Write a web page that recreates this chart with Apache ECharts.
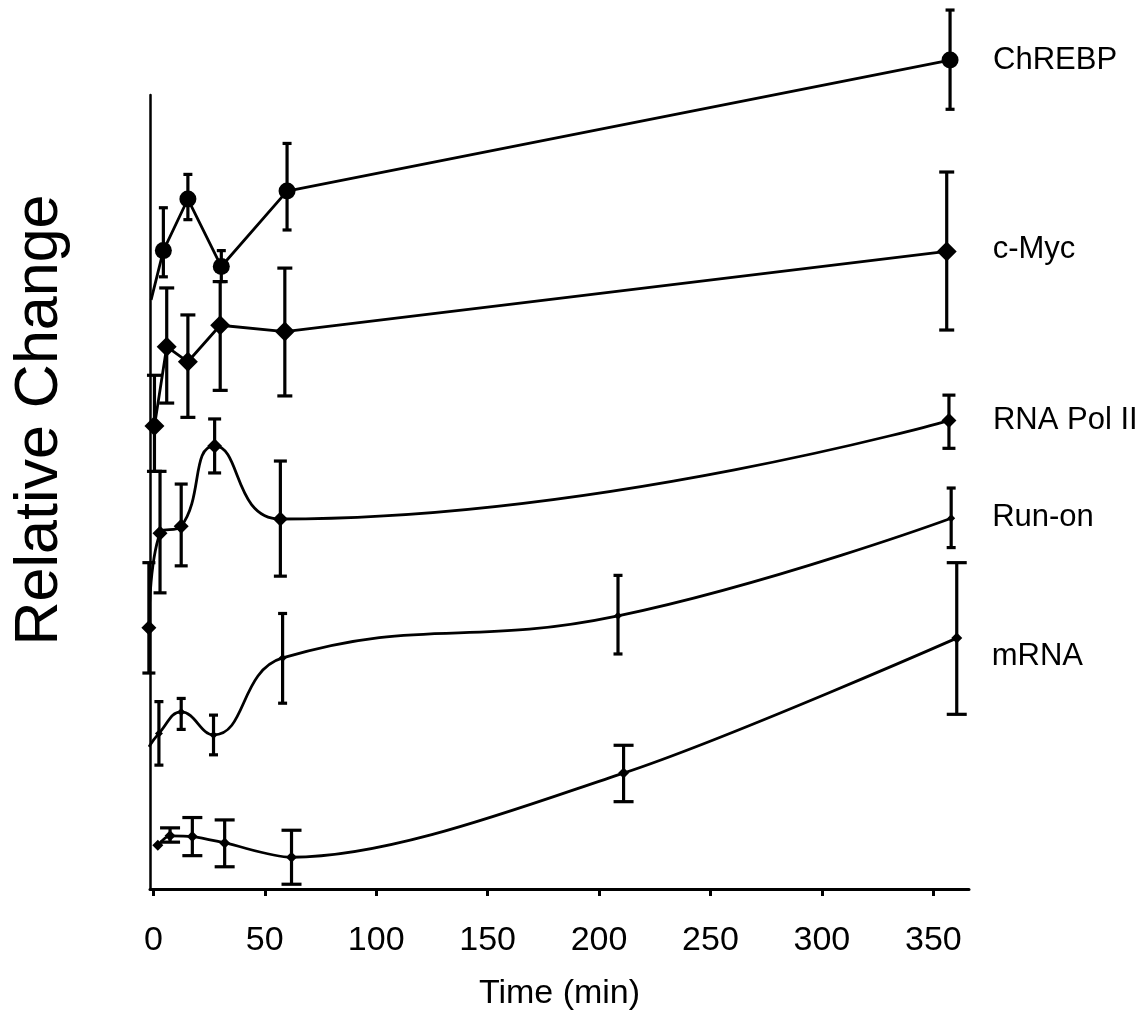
<!DOCTYPE html>
<html>
<head>
<meta charset="utf-8">
<script src="https://cdn.jsdelivr.net/npm/echarts@6/dist/echarts.min.js"></script>
<style>
  html, body { margin: 0; background: #fff; }
  #main { width: 1146px; height: 1013px; }
</style>
</head>
<body>
<div id="main"></div>
<script>
// time points (min), values and error limits (arbitrary units)
const xTicks = [0, 50, 100, 150, 200, 250, 300, 350];

const chrebpTime = [-1, 4.5, 15.5, 30.5, 60, 357.5];
const chrebpVal  = [7.42, 8.04, 8.69, 7.84, 8.79, 10.44];
const chrebpLow  = [null, 7.71, 8.43, 7.65, 8.30, 9.82];
const chrebpHigh = [null, 8.58, 9.00, 8.04, 9.39, 11.07];

const mycTime = [0.5, 6, 15.5, 30, 59, 356];
const mycVal  = [5.83, 6.83, 6.64, 7.10, 7.02, 8.03];
const mycLow  = [5.26, 6.12, 5.94, 6.28, 6.21, 7.04];
const mycHigh = [6.47, 7.57, 7.23, 7.65, 7.82, 9.03];

const polTime = [-2, 3, 12.5, 27.5, 57, 357];
const polVal  = [3.29, 4.48, 4.57, 5.58, 4.66, 5.90];
const polLow  = [2.72, 3.73, 4.07, 5.24, 3.94, 5.55];
const polHigh = [4.11, 5.26, 5.10, 5.92, 5.39, 6.22];

const runTime = [-2, 2.5, 12.5, 27, 58, 208.5, 358];
const runVal  = [1.79, 1.96, 2.23, 1.94, 2.91, 3.44, 4.67];
const runLow  = [null, 1.56, 2.01, 1.69, 2.34, 2.96, 4.30];
const runHigh = [null, 2.36, 2.40, 2.19, 3.47, 3.95, 5.05];

const mrnaTime = [2, 7.5, 17.5, 32, 62, 211, 360.5];
const mrnaVal  = [0.55, 0.67, 0.66, 0.58, 0.40, 1.46, 3.16];
const mrnaLow  = [null, 0.59, 0.42, 0.28, 0.06, 1.10, 2.20];
const mrnaHigh = [null, 0.77, 0.90, 0.87, 0.74, 1.81, 4.11];

const FONT = 'Liberation Sans, Arial, sans-serif';
const chart = echarts.init(document.getElementById('main'));

function lineSeries(name, times, vals, opts) {
  const data = times.map((t, i) => {
    // first point of some curves has no marker (hidden under the axis)
    if (opts.hideFirst && i === 0) return { value: [t, vals[i]], symbol: 'none' };
    return [t, vals[i]];
  });
  return {
    type: 'line',
    name: name,
    data: data,
    smooth: opts.smooth || false,
    symbol: opts.symbol,
    symbolSize: opts.size,
    clip: false,
    z: 4,
    lineStyle: { color: '#000', width: 2.8 },
    itemStyle: { color: '#000' },
    endLabel: {
      show: true,
      formatter: '{a}',
      distance: 0,
      offset: opts.labelOffset,
      color: '#000',
      fontSize: 31,
      fontFamily: FONT
    }
  };
}

function errorSeries(name, times, low, high, cap) {
  const data = [];
  times.forEach((t, i) => {
    if (low[i] != null) data.push([t, low[i], high[i]]);
  });
  return {
    type: 'custom',
    name: name + ' err',
    data: data,
    clip: false,
    silent: true,
    z: 3,
    encode: { x: 0, y: [1, 2] },
    renderItem: function (params, api) {
      const x = api.value(0);
      const a = api.coord([x, api.value(1)]);
      const b = api.coord([x, api.value(2)]);
      const style = { stroke: '#000', lineWidth: 3.2 };
      return {
        type: 'group',
        children: [
          { type: 'line', shape: { x1: a[0], y1: a[1], x2: b[0], y2: b[1] }, style: style },
          { type: 'line', shape: { x1: a[0] - cap, y1: a[1], x2: a[0] + cap, y2: a[1] }, style: style },
          { type: 'line', shape: { x1: b[0] - cap, y1: b[1], x2: b[0] + cap, y2: b[1] }, style: style }
        ]
      };
    }
  };
}

var option = {
  animation: false,
  backgroundColor: '#fff',
  grid: {
    left: 150,
    top: 95,
    width: 819,
    height: 794,
    outerBoundsMode: 'none'
  },
  xAxis: {
    type: 'value',
    min: -1.5,
    max: 366,
    name: 'Time (min)',
    nameLocation: 'middle',
    nameGap: 88,
    nameTextStyle: { color: '#000', fontSize: 34, fontFamily: FONT },
    axisLine: { onZero: false, lineStyle: { color: '#000', width: 3 } },
    axisTick: {
      customValues: xTicks,
      length: 7,
      lineStyle: { color: '#000', width: 3 }
    },
    axisLabel: {
      customValues: xTicks,
      margin: 35,
      color: '#000',
      fontSize: 34,
      fontFamily: FONT
    },
    splitLine: { show: false }
  },
  yAxis: {
    type: 'value',
    min: 0,
    max: 10,
    axisLine: { show: true, onZero: false, lineStyle: { color: '#000', width: 2.5 } },
    axisTick: { show: false },
    axisLabel: { show: false },
    splitLine: { show: false }
  },
  graphic: [{
    type: 'text',
    x: 40,
    y: 420,
    rotation: Math.PI / 2,
    style: {
      text: 'Relative Change',
      fill: '#000',
      font: '61px ' + FONT,
      textAlign: 'center',
      textVerticalAlign: 'middle'
    }
  }],
  series: [
    errorSeries('ChREBP', chrebpTime, chrebpLow, chrebpHigh, 4.5),
    errorSeries('c-Myc', mycTime, mycLow, mycHigh, 7.5),
    errorSeries('RNA Pol II', polTime, polLow, polHigh, 6.5),
    errorSeries('Run-on', runTime, runLow, runHigh, 4.5),
    errorSeries('mRNA', mrnaTime, mrnaLow, mrnaHigh, 10),
    lineSeries('ChREBP', chrebpTime, chrebpVal, { symbol: 'circle', size: 17, hideFirst: true, labelOffset: [43, 0] }),
    lineSeries('c-Myc', mycTime, mycVal, { symbol: 'diamond', size: 20, labelOffset: [46, -2] }),
    lineSeries('RNA Pol II', polTime, polVal, { symbol: 'diamond', size: 15, smooth: 0.5, labelOffset: [44, 0] }),
    lineSeries('Run-on', runTime, runVal, { symbol: 'diamond', size: 8, smooth: 0.45, hideFirst: true, labelOffset: [41, -1] }),
    lineSeries('mRNA', mrnaTime, mrnaVal, { symbol: 'diamond', size: 11, smooth: 0.3, labelOffset: [35, 18] })
  ]
};

chart.setOption(option);
</script>
</body>
</html>
